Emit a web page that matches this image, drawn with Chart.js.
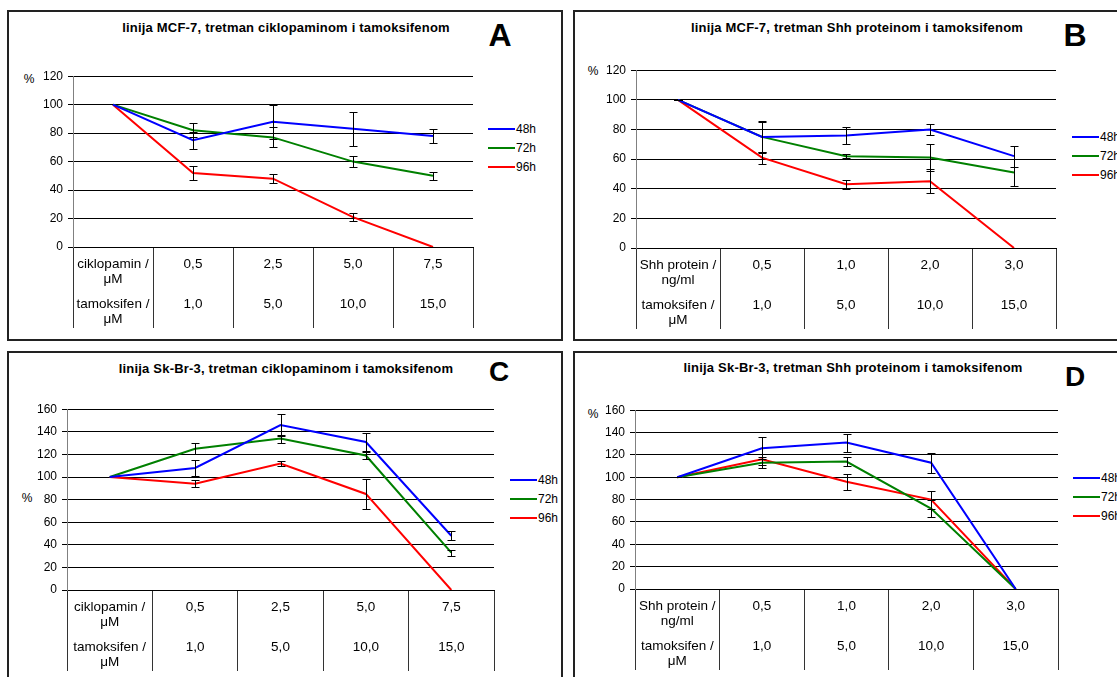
<!DOCTYPE html>
<html>
<head>
<meta charset="utf-8">
<script src="https://cdn.jsdelivr.net/npm/chart.js@4.4.1/dist/chart.umd.min.js"></script>
<style>
body{margin:0;width:1117px;height:677px;overflow:hidden;background:#fff;position:relative;font-family:"Liberation Sans",Arial,sans-serif;color:#000}
.panel{position:absolute;box-sizing:border-box;border:2px solid #222}
.title{position:absolute;width:440px;text-align:center;font-weight:bold;font-size:13px;line-height:16px;letter-spacing:0.2px;white-space:nowrap}
.letter{position:absolute;width:60px;text-align:center;font-weight:bold}
.pct{position:absolute;width:14px;text-align:center;font-size:12px;line-height:14px;color:#000}
.legend{position:absolute;font-size:12px}
.legend div{height:19px;display:flex;align-items:center;white-space:nowrap}
.legend span{display:inline-block;width:27px;height:2px;margin-right:1px}
canvas{position:absolute}
</style>
</head>
<body>
<script>
const seriesNames = ['48h', '72h', '96h'];
const seriesColors = ['#0000ff', '#008000', '#ff0000'];

const cycloHeader = ['ciklopamin /', 'μM'];
const shhHeader = ['Shh protein /', 'ng/ml'];
const tamoxHeader = ['tamoksifen /', 'μM'];
const cycloDoses = ['0,5', '2,5', '5,0', '7,5'];
const shhDoses = ['0,5', '1,0', '2,0', '3,0'];
const tamoxDoses = ['1,0', '5,0', '10,0', '15,0'];

// % of control, per series 48h / 72h / 96h; null = no error bar
const mcfCyclo = [[100, 75, 88, 83, 78], [100, 82, 77, 60, 50], [100, 52, 48, 21, 0]];
const mcfCycloErr = [[null, 6, 12, 12, 5], [null, 5, 7, 4, 3], [null, 5, 3, 3, null]];
const mcfShh = [[100, 75, 76, 80, 62], [100, 75, 62, 61, 51], [100, 61, 43, 45, 0]];
const mcfShhErr = [[0, 10, 6, 4, 7], [0, 11, 1.5, 9, 9], [0, 4, 3, 8, null]];
const skbrCyclo = [[100, 108, 146, 131, 48], [100, 125, 134, 119, 33], [100, 94, 112, 85, 0]];
const skbrCycloErr = [[null, 7, 10, 8, 4], [null, 5, 3.5, 3.5, 2.5], [null, 3, 2, 13, null]];
const skbrShh = [[100, 126, 131, 113, 0], [100, 113, 114, 72, 0], [100, 116, 96, 80, 0]];
const skbrShhErr = [[0, 10, 8, 9, 0], [0, 5, 4, 8, 0], [0, 5, 7, 8, 0]];

const panels = [
  {letter:'A', title:'linija MCF-7, tretman ciklopaminom i tamoksifenom', head:cycloHeader, doses:cycloDoses, vals:mcfCyclo, errs:mcfCycloErr, yMax:120,
   box:[7,10,556,331], area:[73,72,473,247], titleAt:[286,28], letterAt:[500,35,32], pctAt:[29,79], legendAt:[488,129]},
  {letter:'B', title:'linija MCF-7, tretman Shh proteinom i tamoksifenom', head:shhHeader, doses:shhDoses, vals:mcfShh, errs:mcfShhErr, yMax:120,
   box:[573,10,600,331], area:[636,66,1056,248], titleAt:[857,28], letterAt:[1075,35,32], pctAt:[593,71], legendAt:[1072,137]},
  {letter:'C', title:'linija Sk-Br-3, tretman ciklopaminom i tamoksifenom', head:cycloHeader, doses:cycloDoses, vals:skbrCyclo, errs:skbrCycloErr, yMax:160,
   box:[7,351,556,400], area:[67,405,494,590], titleAt:[286,369], letterAt:[499,372,28], pctAt:[27,498], legendAt:[510,480]},
  {letter:'D', title:'linija Sk-Br-3, tretman Shh proteinom i tamoksifenom', head:shhHeader, doses:shhDoses, vals:skbrShh, errs:skbrShhErr, yMax:160,
   box:[573,351,600,400], area:[635,406,1058,589], titleAt:[853,368], letterAt:[1075,377,28], pctAt:[593,414], legendAt:[1073,478]}
];

Chart.defaults.font.family = '"Liberation Sans", Arial, sans-serif';
Chart.defaults.color = '#000';

// lines 5px apart, so the table rows land 0, 15, 40 and 55px below the first
function cell(a, b, c, d){ return [a, '', '', b, '', '', '', '', c, '', '', d]; }
function tableLabels(head, doses){
  return [cell(head[0], head[1], tamoxHeader[0], tamoxHeader[1])].concat(doses.map((v, i) => cell(v, '', tamoxDoses[i], '')));
}

const errorBars = {
  id: 'errorBars',
  afterDatasetsDraw(chart){
    const ctx = chart.ctx, ys = chart.scales.y;
    ctx.save();
    ctx.strokeStyle = '#000';
    ctx.lineWidth = 1;
    chart.data.datasets.forEach((ds, di) => {
      const meta = chart.getDatasetMeta(di);
      ds.errors.forEach((e, i) => {
        if (e === null) return;
        const v = ds.data[i];
        const x = Math.round(meta.data[i].x) + 0.5;
        const top = Math.round(ys.getPixelForValue(v + e)) + 0.5;
        const bot = Math.round(ys.getPixelForValue(Math.max(v - e, 0))) + 0.5;
        ctx.beginPath();
        ctx.moveTo(x, top); ctx.lineTo(x, bot);
        ctx.moveTo(x - 4, top); ctx.lineTo(x + 4, top);
        ctx.moveTo(x - 4, bot); ctx.lineTo(x + 4, bot);
        ctx.stroke();
      });
    });
    ctx.restore();
  }
};

function add(tag, cls, css, text){
  const el = document.createElement(tag);
  if (cls) el.className = cls;
  Object.assign(el.style, css);
  if (text !== undefined) el.textContent = text;
  document.body.appendChild(el);
  return el;
}

panels.forEach(p => {
  const [bx, by, bw, bh] = p.box;
  add('div', 'panel', {left:bx+'px', top:by+'px', width:bw+'px', height:bh+'px'});
  add('div', 'title', {left:(p.titleAt[0]-220)+'px', top:(p.titleAt[1]-8)+'px'}, p.title);
  const [lx, ly, ls] = p.letterAt;
  add('div', 'letter', {left:(lx-30)+'px', top:(ly-ls/2)+'px', fontSize:ls+'px', lineHeight:ls+'px'}, p.letter);
  add('div', 'pct', {left:(p.pctAt[0]-7)+'px', top:(p.pctAt[1]-7)+'px'}, '%');

  const leg = add('div', 'legend', {left:p.legendAt[0]+'px', top:(p.legendAt[1]-9.5)+'px'});
  seriesNames.forEach((n, i) => {
    const row = document.createElement('div');
    const sw = document.createElement('span');
    sw.style.background = seriesColors[i];
    row.appendChild(sw);
    row.appendChild(document.createTextNode(n));
    leg.appendChild(row);
  });

  const [l, t, r, b] = p.area;
  const cv = add('canvas', '', {left:(l-40)+'px', top:(t-8)+'px'});
  cv.width = (r - l) + 46;
  cv.height = (b - t) + 8 + 81 + 2;

  new Chart(cv, {
    type: 'line',
    data: {
      labels: tableLabels(p.head, p.doses),
      datasets: seriesNames.map((n, i) => ({
        label: n, data: p.vals[i], errors: p.errs[i],
        borderColor: seriesColors[i], backgroundColor: seriesColors[i],
        borderWidth: 2, pointRadius: 0, tension: 0
      }))
    },
    options: {
      responsive: false,
      animation: false,
      layout: {padding: {top: 8, right: 6, bottom: 2, left: 0}},
      plugins: {legend: {display: false}, tooltip: {enabled: false}},
      scales: {
        x: {
          offset: true,
          grid: {offset: true, drawOnChartArea: false, drawTicks: true, tickLength: 81, color: '#333'},
          border: {color: '#000'},
          ticks: {autoSkip: false, maxRotation: 0, minRotation: 0, padding: -66.5, color: '#000', font: {size: 13.5, lineHeight: '5px'}},
          afterFit: s => { s.height = 81; }
        },
        y: {
          min: 0, max: p.yMax,
          grid: {color: '#000', tickLength: 5},
          border: {color: '#808080'},
          ticks: {stepSize: 20, padding: 5, color: '#000', font: {size: 12}},
          afterFit: s => { s.width = 40; }
        }
      }
    },
    plugins: [errorBars]
  });
});
</script>
</body>
</html>
